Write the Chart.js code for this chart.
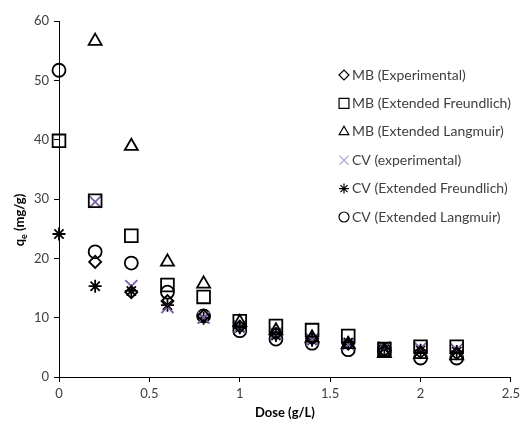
<!DOCTYPE html>
<html>
<head>
<meta charset="utf-8">
<script src="https://cdn.jsdelivr.net/npm/chart.js@4"></script>
<style>
  html, body { margin: 0; padding: 0; background: #fff; }
  #wrap { width: 524px; height: 425px; }
</style>
</head>
<body>
<div id="wrap"><canvas id="dose"></canvas></div>
<script>
// dose (g/L) and qe (mg/g)
const doses = [0, 0.2, 0.4, 0.6, 0.8, 1.0, 1.2, 1.4, 1.6, 1.8, 2.0, 2.2];
const mbExp = [null, 19.4, 14.3, 12.8, 10.3, 8.5, 7.3, 6.5, 5.6, 4.5, 4.2, 4.0];
const mbFreund = [39.8, 29.7, 23.8, 15.5, 13.5, 9.4, 8.6, 7.9, 6.9, 4.7, 5.1, 5.1];
const mbLang = [null, 56.6, 38.9, 19.4, 15.7, 9.2, 7.8, 6.6, 5.5, 4.0, 3.8, 3.6];
const cvExp = [null, 29.5, 15.3, 11.8, 10.0, 8.5, 7.3, 6.3, 5.5, 5.0, 4.8, 4.6];
const cvFreund = [24.1, 15.3, 14.5, 12.1, 9.9, 8.3, 7.0, 6.2, 5.8, 4.8, 4.5, 4.3];
const cvLang = [51.7, 21.1, 19.2, 14.3, 10.3, 7.8, 6.4, 5.7, 4.6, 4.5, 3.2, 3.2];
const seriesNames = ["MB (Experimental)", "MB (Extended Freundlich)", "MB (Extended Langmuir)",
                     "CV (experimental)", "CV (Extended Freundlich)", "CV (Extended Langmuir)"];

const FONT = "Lato, 'Open Sans', sans-serif";

function pts(vals) {
    return doses.map((d, i) => ({ x: d, y: vals[i] })).filter(p => p.y !== null);
}

function ds(label, vals, style, radius, color, legendColor, legendRadius) {
    return {
        label: label,
        data: pts(vals),
        clip: false,
        pointStyle: style,
        pointRadius: radius,
        pointHoverRadius: radius,
        pointBorderWidth: 1.8,
        borderColor: color,
        backgroundColor: "rgba(0,0,0,0)",
        legendColor: legendColor,
        legendRadius: legendRadius,
    };
}

// legend drawn inside the plot, like the original
const innerLegend = {
    id: "innerLegend",
    afterDraw(chart) {
        const ctx = chart.ctx;
        const x0 = 344, y0 = 75, step = 28.4;
        ctx.save();
        chart.data.datasets.forEach((d, i) => {
            const y = y0 + i * step;
            ctx.strokeStyle = d.legendColor;
            ctx.fillStyle = "rgba(0,0,0,0)";
            ctx.lineWidth = 1.2;
            Chart.helpers.drawPoint(ctx, {
                pointStyle: d.pointStyle, rotation: 0,
                radius: d.legendRadius, borderWidth: 1.2
            }, x0, y);
            ctx.fillStyle = "#404040";
            ctx.font = "14px " + FONT;
            ctx.textBaseline = "middle";
            ctx.textAlign = "left";
            ctx.fillText(d.label, x0 + 8, y);
        });

        // axis titles
        ctx.fillStyle = "#000";
        ctx.font = "bold 13px " + FONT;
        ctx.textAlign = "center";
        ctx.textBaseline = "middle";
        const a = chart.chartArea;
        ctx.fillText("Dose (g/L)", (a.left + a.right) / 2, 413);

        ctx.translate(20, 220);
        ctx.rotate(-Math.PI / 2);
        ctx.textAlign = "left";
        const big = "bold 13px " + FONT, small = "bold 9px " + FONT;
        ctx.font = big;
        const wq = ctx.measureText("q").width;
        const wr = ctx.measureText(" (mg/g)").width;
        ctx.font = small;
        const we = ctx.measureText("e").width;
        let sx = -(wq + we + wr) / 2;
        ctx.font = big;
        ctx.fillText("q", sx, 0);
        ctx.font = small;
        ctx.fillText("e", sx + wq, 4);
        ctx.font = big;
        ctx.fillText(" (mg/g)", sx + wq + we, 0);
        ctx.restore();
    }
};

const tickFont = { family: FONT, size: 13 };

const cfg = {
    type: "scatter",
    data: {
        datasets: [
            ds(seriesNames[0], mbExp, "rectRot", 6, "#000", "#000", 5),
            ds(seriesNames[1], mbFreund, "rect", 9, "#000", "#000", 7),
            ds(seriesNames[2], mbLang, "triangle", 7.5, "#000", "#000", 5.5),
            ds(seriesNames[3], cvExp, "crossRot", 8.5, "#7b62a3", "#b4a6cc", 6.5),
            ds(seriesNames[4], cvFreund, "star", 6.5, "#000", "#000", 5),
            ds(seriesNames[5], cvLang, "circle", 6.5, "#000", "#000", 5),
        ],
    },
    options: {
        responsive: true,
        maintainAspectRatio: false,
        animation: false,
        layout: { padding: { top: 21, right: 10, left: 0, bottom: 0 } },
        plugins: {
            legend: { display: false },
            tooltip: { enabled: false },
        },
        scales: {
            x: {
                type: "linear",
                min: 0,
                max: 2.5,
                afterFit: s => { s.height = 48; },
                ticks: {
                    stepSize: 0.5, color: "#404040", font: tickFont, padding: 4, maxRotation: 0,
                    callback: v => String(v),
                },
                grid: { drawOnChartArea: false, drawTicks: true, tickLength: 5, color: "#000" },
                border: { color: "#000", width: 1 },
            },
            y: {
                min: 0,
                max: 60,
                afterFit: s => { s.width = 59; },
                ticks: { stepSize: 10, color: "#404040", font: tickFont, padding: 5 },
                grid: { drawOnChartArea: false, drawTicks: true, tickLength: 5, color: "#000" },
                border: { color: "#000", width: 1 },
            },
        },
    },
    plugins: [innerLegend],
};

window.doseChart = new Chart(document.getElementById("dose"), cfg);
</script>
</body>
</html>
